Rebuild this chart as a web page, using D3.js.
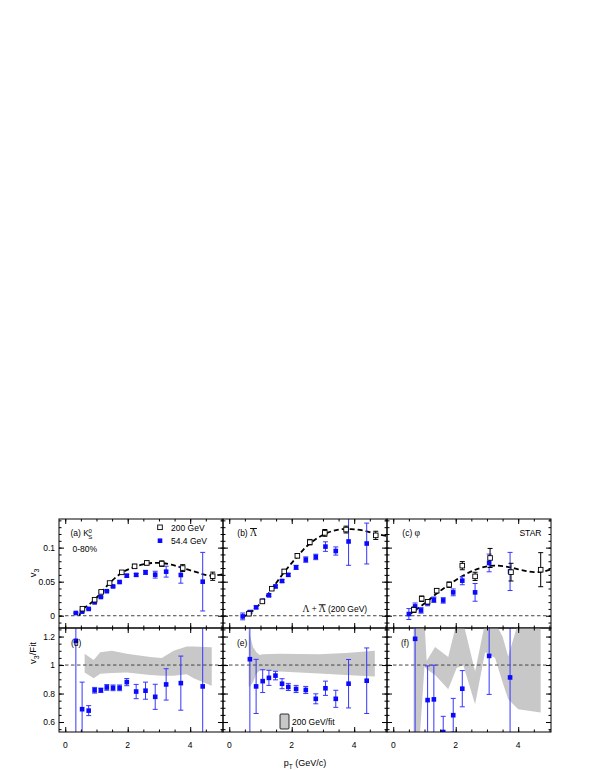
<!DOCTYPE html>
<meta charset="utf-8">
<style>
	body { margin: 0; background: #fff; }
	svg text { font-family: "Liberation Sans", Arial, sans-serif; font-size: 8.5px; fill: #000; }
	.tick line { stroke: #000; stroke-width: 1; }
	.domain { display: none; }
	.frame { fill: none; stroke: #000; stroke-width: 1; }
	.zero { stroke: #444; stroke-width: 1; stroke-dasharray: 3.5,2.5; }
	.fit { fill: none; stroke: #000; stroke-width: 1.8; stroke-dasharray: 5,3; }
	.band { fill: #c8c8c8; }
	.serif { font-family: "Liberation Serif", serif; font-size: 9.5px; }
</style>
<div class="vis"></div>
<script src="https://d3js.org/d3.v7.min.js"></script>
<script>

// ---- Data ----

// panel (a) K0s
const kPt200 = [0.55, 0.94, 1.15, 1.42, 1.81, 2.22, 2.61, 3.09, 3.76, 4.72];
const kV200 = [0.0103, 0.0235, 0.035, 0.048, 0.0637, 0.0725, 0.0775, 0.0765, 0.070, 0.058];
const kE200 = [0.001, 0.001, 0.0015, 0.0015, 0.002, 0.003, 0.003, 0.004, 0.005, 0.006];
const kPt54 = [0.34, 0.54, 0.75, 0.94, 1.14, 1.33, 1.53, 1.74, 1.97, 2.27, 2.57, 2.88, 3.23, 3.70, 4.40];
const kV54 = [0.004, 0.006, 0.010, 0.0196, 0.0275, 0.036, 0.043, 0.0495, 0.0588, 0.060, 0.0637, 0.0603, 0.0647, 0.0598, 0.050];
const kE54 = [0.001, 0.001, 0.001, 0.001, 0.001, 0.001, 0.001, 0.0015, 0.002, 0.002, 0.003, 0.005, 0.008, 0.012, 0.043];
const kR54 = [1.17, 0.69, 0.68, 0.823, 0.823, 0.843, 0.84, 0.84, 0.88, 0.814, 0.82, 0.777, 0.864, 0.873, 0.85];
const kRE54 = [0.8, 0.19, 0.035, 0.02, 0.015, 0.02, 0.02, 0.02, 0.025, 0.05, 0.06, 0.088, 0.11, 0.19, 0.8];
const kFit = [[0.45, 0.0], [0.55, 0.009], [0.75, 0.016], [0.94, 0.0235], [1.15, 0.034], [1.42, 0.048], [1.81, 0.063],
	[2.2, 0.0715], [2.6, 0.0765], [3.0, 0.0775], [3.4, 0.075], [3.8, 0.0695], [4.2, 0.064], [4.6, 0.059], [5.05, 0.061]];
const kBand = [[0.62, 0.947, 1.08], [0.91, 0.908, 1.035], [1.12, 0.938, 1.09], [1.49, 0.945, 1.10], [1.97, 0.947, 1.08],
	[2.72, 0.93, 1.057], [3.09, 0.925, 1.05], [3.47, 0.925, 1.10], [3.89, 0.935, 1.13], [4.11, 0.908, 1.13], [4.69, 0.855, 1.125]];

// panel (b) anti-Lambda
const lPt200 = [0.63, 1.06, 1.36, 1.76, 2.18, 2.58, 3.06, 3.74, 4.69];
const lV200 = [0.003, 0.021, 0.0397, 0.065, 0.088, 0.108, 0.1216, 0.1265, 0.118];
const lE200 = [0.002, 0.002, 0.002, 0.003, 0.003, 0.004, 0.005, 0.005, 0.006];
const lPt54 = [0.43, 0.66, 0.86, 1.07, 1.27, 1.48, 1.69, 1.89, 2.14, 2.45, 2.77, 3.08, 3.41, 3.82, 4.40];
const lV54 = [-0.001, 0.0054, 0.0123, 0.022, 0.030, 0.043, 0.051, 0.060, 0.071, 0.0824, 0.0863, 0.1015, 0.095, 0.109, 0.106];
const lE54 = [0.005, 0.002, 0.002, 0.002, 0.002, 0.002, 0.002, 0.002, 0.003, 0.004, 0.004, 0.007, 0.006, 0.035, 0.030];
const lR54 = [null, 1.041, 0.85, 0.887, 0.91, 0.926, 0.869, 0.846, 0.832, 0.825, 0.763, 0.837, 0.763, 0.869, 0.89];
const lRE54 = [0, 0.8, 0.19, 0.08, 0.053, 0.03, 0.035, 0.025, 0.025, 0.025, 0.035, 0.05, 0.06, 0.17, 0.23];
const lFit = [[0.42, -0.002], [0.63, 0.003], [1.06, 0.021], [1.36, 0.039], [1.76, 0.064], [2.18, 0.087], [2.58, 0.106],
	[3.06, 0.12], [3.5, 0.1265], [3.9, 0.127], [4.3, 0.125], [4.7, 0.12], [5.05, 0.117]];
const lBand = [[0.62, 0.85, 1.26], [0.66, 0.85, 1.21], [0.76, 0.88, 1.126], [0.87, 0.94, 1.09], [0.97, 0.96, 1.07],
	[1.07, 0.966, 1.075], [1.6, 0.955, 1.08], [2.88, 0.94, 1.075], [3.73, 0.93, 1.085], [4.66, 0.92, 1.10]];

// panel (c) phi
const pPt200 = [0.66, 0.91, 1.10, 1.39, 1.79, 2.21, 2.62, 3.10, 3.77, 4.72];
const pV200 = [0.0088, 0.025, 0.0205, 0.0368, 0.0456, 0.0735, 0.0578, 0.0848, 0.064, 0.0676];
const pE200 = [0.004, 0.004, 0.003, 0.003, 0.004, 0.006, 0.006, 0.014, 0.013, 0.025];
const pPt54 = [0.50, 0.70, 0.89, 1.10, 1.30, 1.60, 1.92, 2.21, 2.62, 3.07, 3.74];
const pV54 = [0.0025, 0.0137, 0.0078, 0.0186, 0.0235, 0.0225, 0.0343, 0.0515, 0.0343, 0.0775, 0.065];
const pE54 = [0.008, 0.005, 0.004, 0.004, 0.004, 0.004, 0.005, 0.006, 0.013, 0.013, 0.028];
const pR54 = [null, 1.184, null, 0.754, 0.759, 0.53, 0.648, 0.834, null, 1.064, 0.913];
const pRE54 = [0, 0.8, 0, 0.24, 0.24, 0.11, 0.118, 0.127, 0, 0.27, 0.8];
const pFit = [[0.5, 0.001], [0.7, 0.008], [1.0, 0.018], [1.4, 0.033], [1.8, 0.046], [2.2, 0.058], [2.6, 0.067],
	[3.0, 0.0725], [3.3, 0.0735], [3.7, 0.0715], [4.1, 0.067], [4.5, 0.064], [4.8, 0.065], [5.05, 0.068]];
const pBand = [[0.65, 0.5, 1.3], [0.85, 0.5, 1.3], [1.0, 0.99, 1.3], [1.07, 0.97, 1.03], [1.34, 0.93, 1.126],
	[1.76, 0.83, 1.057], [2.03, 0.98, 1.3], [2.24, 1.0, 1.3], [2.62, 0.724, 0.954], [2.94, 1.09, 1.3], [3.26, 1.05, 1.3],
	[3.5, 0.88, 1.2], [3.68, 0.76, 1.06], [4.0, 0.69, 1.3], [4.72, 0.667, 1.3]];

// ticks
const xMajor = [0, 2, 4];
const topMajor = [0, 0.05, 0.1];
const botMajor = [0.6, 0.8, 1, 1.2];

// ---- Setup ----
const pw = 164;
const lefts = [59, 223, 387];
const top0 = 519, top1 = 628, bot1 = 732;
const blue = "#0a0aff", blueBar = "#3636ff";

let svg = d3.select(".vis").append("svg")
	.attr("width", 595).attr("height", 770);

let x = d3.scaleLinear().domain([-0.2, 5.05]).range([0, pw]);
let yT = d3.scaleLinear().domain([-0.018, 0.142]).range([top1, top0]);
let yB = d3.scaleLinear().domain([0.53, 1.26]).range([bot1, top1]);

const zip = (pt, v, e) => pt.map((p, i) => ({ p: p, v: v[i], e: e[i] })).filter(d => d.v !== null);

const panels = [
	{ fit: kFit, band: kBand, black: zip(kPt200, kV200, kE200), blue: zip(kPt54, kV54, kE54), ratio: zip(kPt54, kR54, kRE54) },
	{ fit: lFit, band: lBand, black: zip(lPt200, lV200, lE200), blue: zip(lPt54, lV54, lE54), ratio: zip(lPt54, lR54, lRE54) },
	{ fit: pFit, band: pBand, black: zip(pPt200, pV200, pE200), blue: zip(pPt54, pV54, pE54), ratio: zip(pPt54, pR54, pRE54) }
];

// clip paths
let defs = svg.append("defs");
defs.append("clipPath").attr("id", "clipT").append("rect")
	.attr("x", 0).attr("y", top0).attr("width", pw).attr("height", top1 - top0);
defs.append("clipPath").attr("id", "clipB").append("rect")
	.attr("x", 0).attr("y", top1).attr("width", pw).attr("height", bot1 - top1);

function errorBars(g, data, y, color, cap) {
	let eb = g.selectAll(null).data(data).enter().append("g");
	eb.append("line")
		.attr("x1", d => x(d.p)).attr("x2", d => x(d.p))
		.attr("y1", d => y(d.v - d.e)).attr("y2", d => y(d.v + d.e))
		.attr("stroke", color).attr("stroke-width", 1);
	[-1, 1].forEach(s => {
		eb.append("line")
			.attr("x1", d => x(d.p) - cap).attr("x2", d => x(d.p) + cap)
			.attr("y1", d => y(d.v + s * d.e)).attr("y2", d => y(d.v + s * d.e))
			.attr("stroke", color).attr("stroke-width", 1);
	});
}

function frameTicks(g, y0, y1, yScale, yMajor, yMinorStep) {
	let xMinor = d3.range(0, 5.01, 0.5);
	let yMinor = d3.range(Math.ceil(yScale.domain()[0] / yMinorStep) * yMinorStep, yScale.domain()[1], yMinorStep);
	let sides = [
		[d3.axisTop, 0, y0, x, xMajor, xMinor],
		[d3.axisBottom, 0, y1, x, xMajor, xMinor],
		[d3.axisLeft, 0, 0, yScale, yMajor, yMinor],
		[d3.axisRight, pw, 0, yScale, yMajor, yMinor]
	];
	sides.forEach(([ax, tx, ty, sc, major, minor]) => {
		g.append("g").attr("transform", `translate(${tx},${ty})`)
			.call(ax(sc).tickValues(minor).tickSize(-2.5).tickFormat(""));
		g.append("g").attr("transform", `translate(${tx},${ty})`)
			.call(ax(sc).tickValues(major).tickSize(-5).tickFormat(""));
	});
	g.append("rect").attr("class", "frame").attr("x", 0).attr("y", y0).attr("width", pw).attr("height", y1 - y0);
}

panels.forEach((P, i) => {
	let g = svg.append("g").attr("transform", `translate(${lefts[i]},0)`);

	// top panel
	let gt = g.append("g").attr("clip-path", "url(#clipT)");
	gt.append("line").attr("class", "zero")
		.attr("x1", 0).attr("x2", pw).attr("y1", yT(0)).attr("y2", yT(0));
	gt.append("path").datum(P.fit).attr("class", "fit")
		.attr("d", d3.line().x(d => x(d[0])).y(d => yT(d[1])).curve(d3.curveCatmullRom));
	errorBars(gt, P.blue, yT, blueBar, 2.5);
	errorBars(gt, P.black, yT, "#000", 2.5);
	gt.selectAll(null).data(P.blue).enter().append("rect")
		.attr("x", d => x(d.p) - 2.3).attr("y", d => yT(d.v) - 2.3)
		.attr("width", 4.6).attr("height", 4.6).attr("fill", blue);
	gt.selectAll(null).data(P.black).enter().append("rect")
		.attr("x", d => x(d.p) - 2.3).attr("y", d => yT(d.v) - 2.3)
		.attr("width", 4.6).attr("height", 4.6).attr("fill", "#fff").attr("stroke", "#000").attr("stroke-width", 0.9);
	frameTicks(g, top0, top1, yT, topMajor, 0.01);

	// ratio panel
	let gb = g.append("g").attr("clip-path", "url(#clipB)");
	gb.append("path").datum(P.band).attr("class", "band")
		.attr("d", d3.area().x(d => x(d[0])).y0(d => yB(d[1])).y1(d => yB(d[2])));
	gb.append("line").attr("class", "zero")
		.attr("x1", 0).attr("x2", pw).attr("y1", yB(1)).attr("y2", yB(1));
	errorBars(gb, P.ratio, yB, blueBar, 2.5);
	gb.selectAll(null).data(P.ratio).enter().append("rect")
		.attr("x", d => x(d.p) - 2.3).attr("y", d => yB(d.v) - 2.3)
		.attr("width", 4.6).attr("height", 4.6).attr("fill", blue);
	frameTicks(g, top1, bot1, yB, botMajor, 0.05);

	// x tick labels
	g.selectAll(null).data(xMajor).enter().append("text")
		.attr("x", d => x(d)).attr("y", 748).attr("text-anchor", "middle").text(d => d);

	g.append("text").attr("x", i === 0 ? 12 : 14).attr("y", 646).text("(" + ["d", "e", "f"][i] + ")");
});

// y tick labels
const fmt = d3.format("~g");
svg.selectAll(null).data(topMajor).enter().append("text")
	.attr("x", 55).attr("y", d => yT(d) + 3).attr("text-anchor", "end").text(d => fmt(d));
svg.selectAll(null).data(botMajor).enter().append("text")
	.attr("x", 55).attr("y", d => yB(d) + 3).attr("text-anchor", "end").text(d => fmt(d));

// axis titles
let yl1 = svg.append("text").attr("transform", "translate(36,573) rotate(-90)")
	.attr("text-anchor", "middle").style("font-size", "9.5px");
yl1.append("tspan").text("v");
yl1.append("tspan").attr("dy", 2.5).style("font-size", "7px").text("3");

let yl2 = svg.append("text").attr("transform", "translate(36,653) rotate(-90)")
	.attr("text-anchor", "middle").style("font-size", "9.5px");
yl2.append("tspan").text("v");
yl2.append("tspan").attr("dy", 2.5).style("font-size", "7px").text("3");
yl2.append("tspan").attr("dy", -2.5).text("/Fit");

let xl = svg.append("text").attr("x", 305).attr("y", 766).attr("text-anchor", "middle").style("font-size", "9px");
xl.append("tspan").text("p");
xl.append("tspan").attr("dy", 2.5).style("font-size", "6.5px").text("T");
xl.append("tspan").attr("dy", -2.5).text(" (GeV/c)");

// panel (a) labels
let ta = svg.append("text").attr("x", 70.5).attr("y", 536);
ta.append("tspan").text("(a) K");
ta.append("tspan").attr("dy", -3.5).attr("dx", -0.5).style("font-size", "6px").text("0");
ta.append("tspan").attr("dy", 6).attr("dx", -3.4).style("font-size", "6px").text("S");
svg.append("text").attr("x", 72.5).attr("y", 551.5).text("0-80%");

// legend
svg.append("rect").attr("x", 157.7).attr("y", 525).attr("width", 4.6).attr("height", 4.6)
	.attr("fill", "#fff").attr("stroke", "#000").attr("stroke-width", 0.9);
svg.append("text").attr("x", 171).attr("y", 530.5).text("200 GeV");
svg.append("rect").attr("x", 157.7).attr("y", 538.4).attr("width", 4.6).attr("height", 4.6).attr("fill", blue);
svg.append("text").attr("x", 171).attr("y", 544).text("54.4 GeV");

// panel (b) labels
let tb = svg.append("text").attr("x", 237.3).attr("y", 536);
tb.append("tspan").text("(b) ");
tb.append("tspan").attr("class", "serif").style("text-decoration", "overline").text("Λ");
let tb2 = svg.append("text").attr("x", 302.5).attr("y", 612.3);
tb2.append("tspan").attr("class", "serif").text("Λ + ");
tb2.append("tspan").attr("class", "serif").style("text-decoration", "overline").text("Λ");
tb2.append("tspan").text(" (200 GeV)");

// panel (c) labels
let tc = svg.append("text").attr("x", 402.3).attr("y", 536);
tc.append("tspan").text("(c) ");
tc.append("tspan").attr("class", "serif").text("φ");
svg.append("text").attr("x", 541.5).attr("y", 536).attr("text-anchor", "end").text("STAR");

// ratio legend
svg.append("rect").attr("x", 280).attr("y", 714).attr("width", 9).attr("height", 15).attr("rx", 1)
	.attr("fill", "#c8c8c8").attr("stroke", "#000").attr("stroke-width", 0.8);
svg.append("text").attr("x", 292).attr("y", 725).text("200 GeV/fit");

</script>
